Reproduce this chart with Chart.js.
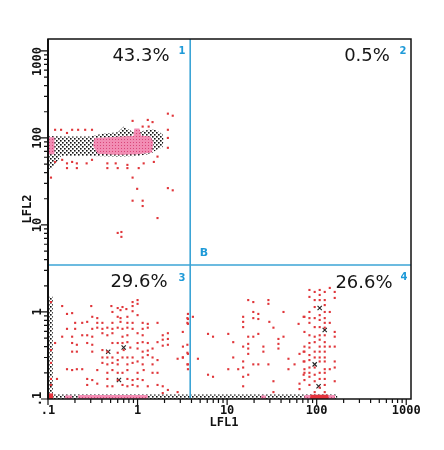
<!DOCTYPE html>
<html>
<head>
<meta charset="utf-8">
<script src="https://cdn.jsdelivr.net/npm/chart.js@4.4.0/dist/chart.umd.min.js"></script>
<style>
  body { margin: 0; background: #fff; }
  #wrap { width: 444px; height: 450px; }
</style>
</head>
<body>
<div id="wrap"><canvas id="dotplot" width="444" height="450"></canvas></div>
<script>
// ejes log: LFL1 (x) y LFL2 (y)
const xRange = [0.1, 1130];
const yRange = [0.1, 1370];
const decades = [0.1, 1, 10, 100, 1000];
const decadeLabels = ['.1', '1', '10', '100', '1000'];
const minorSteps = [2, 3, 4, 5, 6, 7, 8, 9];

// compuerta de cuadrantes
const gateX = 3.87;
const gateY = 3.47;
const quadrantPct = ['43.3%', '0.5%', '29.6%', '26.6%'];
const quadrantIds = ['1', '2', '3', '4'];

// puntos sueltos (rojos)
const q1Dots = [
  [0.12,124],[0.14,124],[0.163,114],[0.186,124],[0.217,124],[0.26,124],[0.31,124],
  [0.88,157],[1.30,161],[1.47,152],[1.14,135],[1.33,135],[2.18,190],[2.47,180],
  [2.18,124],[2.18,100],[2.18,77],[0.12,53],[0.144,56],[0.163,51],[0.186,53],
  [0.21,51],[0.163,45],[0.21,45],[0.27,51],[0.31,56],[0.46,51],[0.57,51],[0.77,49],
  [0.46,45],[0.6,45],[0.77,45],[1.03,45],[1.17,51],[1.52,53],[1.67,61],[0.108,35],
  [0.88,35],[0.99,26],[0.88,19],[1.14,19],[1.14,16.5],[1.67,12],[2.18,26.5],[2.47,25],
  [0.6,8.1],[0.66,8.3],[0.66,7.3]
];
const q3Dots = [
  [0.108,1.30],[0.144,1.17],[0.304,1.17],[0.51,1.17],[0.6,1.11],[0.679,1.14],[0.88,1.30],
  [1.0,1.37],[1.0,1.24],[0.88,1.17],[0.163,0.95],[0.186,0.97],[0.524,1.0],[0.645,1.05],
  [0.75,1.08],[0.88,1.02],[0.312,0.88],[0.355,0.85],[0.6,0.88],[0.645,0.85],[0.77,0.88],
  [1.0,0.92],[0.201,0.75],[0.241,0.75],[0.274,0.77],[0.355,0.75],[0.405,0.75],[0.524,0.75],
  [0.645,0.77],[0.77,0.75],[0.88,0.75],[1.14,0.75],[1.30,0.73],[1.67,0.75],[3.6,0.75],
  [3.6,0.85],[0.163,0.64],[0.201,0.64],[0.312,0.64],[0.355,0.66],[0.405,0.64],[0.46,0.66],
  [0.524,0.64],[0.6,0.66],[0.679,0.64],[0.77,0.66],[0.88,0.64],[1.14,0.64],[1.30,0.66],
  [0.144,0.52],[0.186,0.52],[0.241,0.54],[0.274,0.54],[0.312,0.52],[0.405,0.57],[0.46,0.54],
  [0.524,0.57],[0.679,0.52],[0.77,0.54],[1.0,0.57],[1.14,0.54],[1.91,0.54],[2.18,0.57],
  [3.2,0.59],[0.12,0.44],[0.186,0.44],[0.21,0.42],[0.274,0.44],[0.312,0.42],[0.524,0.44],
  [0.6,0.44],[0.679,0.44],[0.77,0.45],[1.0,0.44],[1.14,0.45],[1.30,0.44],[1.67,0.45],
  [1.91,0.48],[2.18,0.49],[2.18,0.42],[1.91,0.41],[3.6,0.42],[0.108,0.365],[0.186,0.35],
  [0.21,0.35],[0.312,0.35],[0.405,0.365],[0.46,0.35],[0.6,0.34],[0.70,0.365],[0.83,0.39],
  [1.0,0.38],[1.14,0.35],[1.30,0.36],[1.47,0.38],[3.6,0.34],[0.405,0.30],[0.46,0.30],
  [0.524,0.30],[0.6,0.28],[0.679,0.30],[0.77,0.30],[0.88,0.30],[1.14,0.30],[1.30,0.32],
  [1.47,0.30],[1.67,0.28],[2.8,0.29],[3.2,0.30],[0.108,0.26],[0.405,0.26],[0.46,0.25],
  [0.524,0.26],[0.6,0.25],[0.77,0.25],[0.88,0.26],[1.0,0.27],[1.14,0.25],[1.47,0.25],
  [3.6,0.25],[0.163,0.22],[0.186,0.215],[0.21,0.22],[0.241,0.22],[0.355,0.215],[0.46,0.20],
  [0.524,0.215],[0.6,0.20],[0.679,0.20],[0.77,0.215],[1.0,0.20],[1.17,0.215],[1.47,0.20],
  [1.67,0.20],[0.108,0.17],[0.126,0.17],[0.274,0.17],[0.312,0.165],[0.46,0.17],[0.6,0.165],
  [0.77,0.17],[0.88,0.165],[1.0,0.17],[1.14,0.165],[0.108,0.145],[0.274,0.145],[0.355,0.15],
  [0.46,0.14],[0.524,0.14],[0.679,0.145],[0.77,0.14],[0.88,0.145],[1.0,0.14],[1.30,0.14],
  [1.67,0.145],[1.91,0.14],[2.18,0.127],[2.8,0.12],[1.91,0.117]
];
const q4Dots = [
  [3.65,0.95],[3.65,0.83],[3.65,0.73],[4.15,0.88],[3.21,0.40],[3.21,0.30],
  [3.65,0.33],[3.65,0.25],[3.65,0.22],[4.72,0.29],[6.12,0.56],[6.96,0.52],[6.12,0.19],
  [6.96,0.18],[10.3,0.56],[11.7,0.45],[10.3,0.22],[11.7,0.30],[13.3,0.22],[15.1,0.88],
  [15.1,0.77],[15.1,0.67],[15.1,0.40],[15.1,0.27],[15.1,0.23],[15.1,0.18],[15.1,0.14],
  [17.2,1.37],[17.2,0.52],[17.2,0.43],[17.2,0.38],[17.2,0.33],[17.2,0.19],[19.6,1.30],
  [19.6,1.0],[19.6,0.85],[19.6,0.52],[19.6,0.25],[22.3,0.95],[22.3,0.83],[22.3,0.56],
  [22.3,0.25],[25.4,0.40],[25.4,0.35],[28.9,1.37],[28.9,1.24],[28.9,0.25],[29.6,0.77],
  [32.9,0.66],[32.9,0.16],[32.9,0.12],[37.4,0.49],[37.4,0.43],[37.4,0.38],[42.6,1.0],
  [42.6,0.52],[48.4,0.29],[48.4,0.22],[56.6,0.25],[62.8,0.73],[64.3,0.33],[64.3,0.15],
  [64.3,0.13],[71.5,0.88],[71.5,0.35],[71.5,0.27],[71.5,0.19]
];
// columna densa alrededor de 100
const q4Column = [
  [73,0.88],[73,0.59],[73,0.40],[73,0.35],[73,0.27],[73,0.22],[73,0.20],[73,0.165],
  [83,1.79],[83,1.49],[83,1.0],[83,0.85],[83,0.75],[83,0.54],[83,0.44],[83,0.39],[83,0.32],
  [83,0.28],[83,0.23],[83,0.20],[83,0.18],[83,0.145],
  [95,1.70],[95,1.37],[95,1.14],[95,0.85],[95,0.67],[95,0.52],[95,0.45],[95,0.35],[95,0.30],
  [95,0.23],[95,0.19],[95,0.16],[95,0.12],
  [108,1.79],[108,1.57],[108,1.37],[108,0.92],[108,0.81],[108,0.67],[108,0.54],[108,0.48],
  [108,0.40],[108,0.35],[108,0.30],[108,0.27],[108,0.20],[108,0.17],[108,0.135],
  [123,1.70],[123,1.37],[123,1.20],[123,1.0],[123,0.85],[123,0.75],[123,0.66],[123,0.54],
  [123,0.45],[123,0.40],[123,0.35],[123,0.30],[123,0.27],[123,0.22],[123,0.20],[123,0.17],
  [123,0.145],[123,0.12],
  [140,1.89],[140,1.0],[140,0.75],[140,0.40],[140,0.22],
  [159,1.70],[159,1.45],[159,0.59],[159,0.52],[159,0.40],[159,0.27],[159,0.23],[159,0.16]
];
// grupos negros pequeños
const blackClusters = [
  [0.47,0.35],[0.7,0.39],[0.62,0.165],[108,1.11],[123,0.62],[95,0.25],[105,0.14]
];

// zonas densas (contornos)
const q1Lattice = [
  [0.1,44],[0.1,105],[0.15,104],[0.3,104],[0.4,112],[0.6,116],[0.7,135],[0.8,125],
  [0.9,116],[1.05,118],[1.2,122],[1.4,125],[1.6,124],[1.9,110],[1.95,95],[1.9,78],
  [1.6,72],[1.4,66],[1.0,62],[0.6,61],[0.3,62],[0.14,62],[0.12,50],[0.11,44]
];
const q1Core = [
  [0.33,100],[0.6,103],[0.9,105],[0.92,128],[1.05,128],[1.1,106],[1.4,104],[1.5,90],
  [1.45,68],[1.0,65],[0.6,64],[0.36,66],[0.32,80]
];
const q1Strip = [[0.1,65],[0.1,102],[0.118,102],[0.118,65]];
const edgeBottom = [[0.1,0.1],[170,0.1],[170,0.113],[0.1,0.113]];
const edgeLeft = [[0.1,0.1],[0.1,1.5],[0.113,1.5],[0.113,0.1]];
const bottomPink1 = [[0.155,0.1],[0.186,0.1],[0.186,0.11],[0.155,0.11]];
const bottomPink2 = [[0.217,0.1],[1.3,0.1],[1.3,0.111],[0.217,0.111]];
const bottomPink3 = [[24,0.1],[27,0.1],[27,0.11],[24,0.11]];
const bottomPink4 = [[73,0.1],[160,0.1],[160,0.111],[73,0.111]];
const bottomRed1 = [[0.1,0.1],[0.114,0.1],[0.114,0.116],[0.1,0.116]];
const bottomRed2 = [[85,0.1],[135,0.1],[135,0.112],[85,0.112]];

const pts = arr => arr.map(p => ({ x: p[0], y: p[1] }));

function makePattern(bg, dot, size, spots, dotSize) {
  const c = document.createElement('canvas');
  c.width = size; c.height = size;
  const g = c.getContext('2d');
  if (bg) { g.fillStyle = bg; g.fillRect(0, 0, size, size); }
  g.fillStyle = dot;
  spots.forEach(s => g.fillRect(s[0], s[1], dotSize, dotSize));
  return c.getContext('2d').createPattern(c, 'repeat');
}

const ctx = document.getElementById('dotplot').getContext('2d');
const blackPat = makePattern(null, '#111', 4, [[0, 0], [2, 2]], 1.6);
const pinkPat = makePattern('#f28db4', '#d94679', 3, [[1, 1]], 1);

function region(data, pattern, order) {
  return {
    data: pts(data), showLine: true, fill: 'shape', backgroundColor: pattern,
    borderColor: 'transparent', borderWidth: 0, pointRadius: 0, order: order
  };
}

function dots(data, color) {
  return {
    data: pts(data), pointRadius: 1.5, pointStyle: 'rect',
    backgroundColor: color, borderWidth: 0, order: 1, clip: false
  };
}

// marco, marcas de ejes, textos
const axesPlugin = {
  id: 'axes',
  afterDraw(chart) {
    const c = chart.ctx;
    const { left, right, top, bottom } = chart.chartArea;
    const xs = chart.scales.x, ys = chart.scales.y;
    c.save();
    c.strokeStyle = '#111';
    c.lineWidth = 1.5;
    c.strokeRect(left, top, right - left, bottom - top);
    c.lineWidth = 2;
    c.beginPath(); c.moveTo(left, top); c.lineTo(left, bottom); c.stroke();

    c.lineWidth = 1.2;
    c.beginPath();
    decades.forEach(d => {
      const x = xs.getPixelForValue(d);
      if (x <= right + 0.5) { c.moveTo(x, bottom); c.lineTo(x, bottom + 6); }
      const y = ys.getPixelForValue(d);
      if (y >= top - 0.5) { c.moveTo(left, y); c.lineTo(left - 7, y); }
      minorSteps.forEach(m => {
        const xm = xs.getPixelForValue(d * m);
        if (d * m < xRange[1]) { c.moveTo(xm, bottom); c.lineTo(xm, bottom + 4); }
        if (d * m < yRange[1]) {
          const ym = ys.getPixelForValue(d * m);
          c.moveTo(left, ym); c.lineTo(left - 4, ym);
        }
      });
    });
    c.stroke();

    c.fillStyle = '#111';
    c.font = 'bold 12px "DejaVu Sans Mono"';
    c.textAlign = 'center';
    c.textBaseline = 'middle';
    decades.forEach((d, i) => {
      c.fillText(decadeLabels[i], xs.getPixelForValue(d), bottom + 12);
      const w = c.measureText(decadeLabels[i]).width;
      const yc = Math.max(ys.getPixelForValue(d), top + w / 2 + 8);
      c.save();
      c.translate(left - 10, yc);
      c.rotate(-Math.PI / 2);
      c.fillText(decadeLabels[i], 0, 0);
      c.restore();
    });
    c.fillText('LFL1', 224, 423);
    c.save();
    c.translate(28, 209);
    c.rotate(-Math.PI / 2);
    c.fillText('LFL2', 0, 0);
    c.restore();

    // porcentajes por cuadrante
    c.font = '18px "DejaVu Sans"';
    c.fillStyle = '#151515';
    const pctPos = [[141, 56], [367, 56], [139, 282], [364, 283]];
    const idPos = [[182, 51], [403, 51], [182, 278], [404, 277]];
    quadrantPct.forEach((t, i) => c.fillText(t, pctPos[i][0], pctPos[i][1]));
    c.font = 'bold 10px "DejaVu Sans"';
    c.fillStyle = '#1e9ad8';
    quadrantIds.forEach((t, i) => c.fillText(t, idPos[i][0], idPos[i][1]));
    c.font = 'bold 11px "DejaVu Sans"';
    c.fillText('B', 204, 253);
    c.restore();
  }
};

new Chart(ctx, {
  type: 'scatter',
  data: {
    datasets: [
      { data: pts([[gateX, yRange[0]], [gateX, yRange[1]]]), showLine: true, borderColor: '#3ba4d6',
        borderWidth: 1.6, pointRadius: 0, order: 0 },
      { data: pts([[xRange[0], gateY], [xRange[1], gateY]]), showLine: true, borderColor: '#3ba4d6',
        borderWidth: 1.6, pointRadius: 0, order: 0 },
      dots(q1Dots, '#e0363a'),
      dots(q3Dots, '#e0363a'),
      dots(q4Dots, '#e0363a'),
      dots(q4Column, '#e0363a'),
      { data: pts(blackClusters), pointStyle: 'crossRot', pointRadius: 3, borderColor: '#222',
        borderWidth: 1.1, order: 1 },
      region(bottomRed1, '#e5333d', 2),
      region(bottomRed2, '#e5333d', 2),
      region(q1Core, pinkPat, 3),
      region(q1Strip, pinkPat, 3),
      region(bottomPink1, pinkPat, 3),
      region(bottomPink2, pinkPat, 3),
      region(bottomPink3, pinkPat, 3),
      region(bottomPink4, pinkPat, 3),
      region(q1Lattice, blackPat, 4),
      region(edgeBottom, blackPat, 4),
      region(edgeLeft, blackPat, 4)
    ]
  },
  options: {
    responsive: false,
    animation: false,
    layout: { padding: { left: 48, top: 39, right: 33, bottom: 51 } },
    plugins: { legend: { display: false }, tooltip: { enabled: false } },
    scales: {
      x: { type: 'logarithmic', min: xRange[0], max: xRange[1], display: false },
      y: { type: 'logarithmic', min: yRange[0], max: yRange[1], display: false }
    }
  },
  plugins: [axesPlugin]
});
</script>
</body>
</html>
